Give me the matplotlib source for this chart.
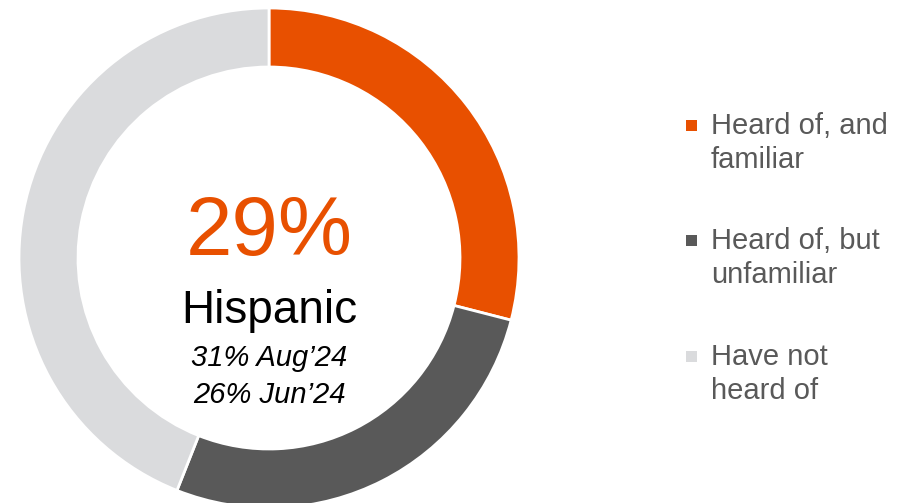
import matplotlib.pyplot as plt
from matplotlib.patches import Rectangle

# data
labels = ['Heard of, and\nfamiliar', 'Heard of, but\nunfamiliar', 'Have not\nheard of']
values = [29, 27, 44]
colors = ['#E85000', '#595959', '#DADBDD']
center_big = '29%'
center_group = 'Hispanic'
history = ["31% Aug\u201924", "26% Jun\u201924"]

plt.rcParams['font.family'] = ['Liberation Sans', 'DejaVu Sans']

W, H = 901, 503
fig = plt.figure(figsize=(W / 100, H / 100), dpi=100)

# donut: center (269, 259) px, outer radius 250 px
cx, cy, R = 269, 258, 250
ax = fig.add_axes([(cx - R) / W, (H - cy - R) / H, 2 * R / W, 2 * R / H])
ax.pie(values, colors=colors, startangle=90, counterclock=False,
       radius=1, wedgeprops=dict(width=0.236, edgecolor='white', linewidth=2))
ax.set_xlim(-1, 1)
ax.set_ylim(-1, 1)
ax.axis('off')

# center text
fig.text(cx / W, 1 - 233 / H, center_big, ha='center', va='center',
         fontsize=60, color=colors[0])
fig.text(cx / W, 1 - 311 / H, center_group, ha='center', va='center',
         fontsize=33, color='black')
for i, t in enumerate(history):
    fig.text(cx / W, 1 - (358 + 37 * i) / H, t, ha='center', va='center',
             fontsize=21, style='italic', color='black')

# legend
ys = [143, 258, 374]
for lab, col, y in zip(labels, colors, ys):
    fig.patches.append(Rectangle((686 / W, 1 - 131 / H - (y - 143) / H), 11 / W, 11 / H,
                                 transform=fig.transFigure, facecolor=col,
                                 edgecolor='none'))
    fig.text(711 / W, 1 - y / H, lab, ha='left', va='center', fontsize=21,
             color='#595959', linespacing=1.3)

fig.savefig('out.png', dpi=100)
